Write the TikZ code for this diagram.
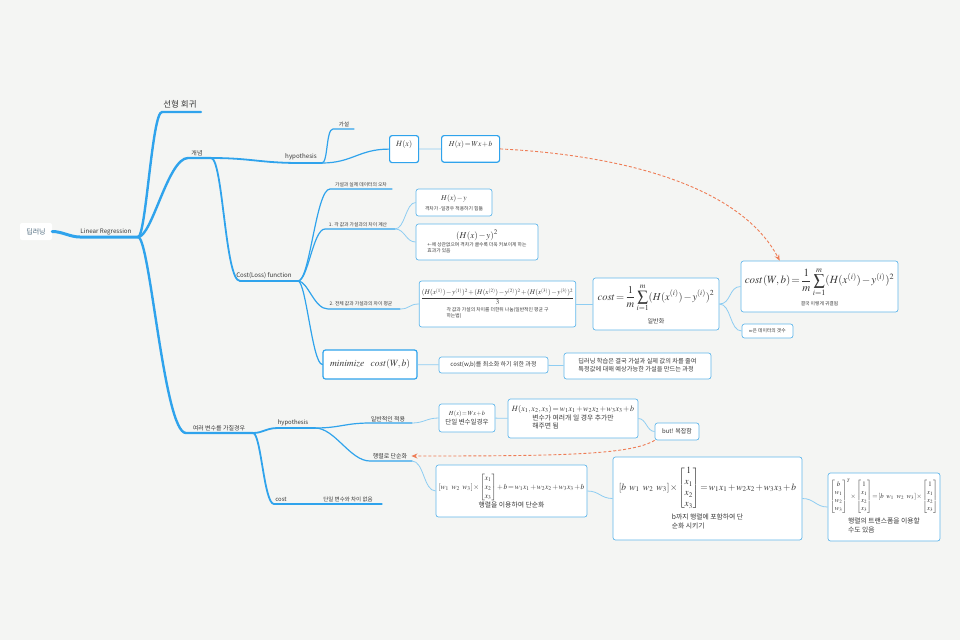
\documentclass[tikz,border=0pt]{standalone}
\usepackage{mathptmx}
\usepackage{amsmath}
\usepackage{fontspec}
\newfontfamily\kr{Noto Sans CJK KR}
\usetikzlibrary{arrows.meta}
\definecolor{bg}{HTML}{F4F5F3}
\definecolor{br}{HTML}{2FA3EC}
\definecolor{lnk}{HTML}{8ECDF2}
\definecolor{bx}{HTML}{62B7EB}
\definecolor{org}{HTML}{EE7C55}
\definecolor{txt}{HTML}{383838}
\definecolor{rtxt}{HTML}{4E6A7E}
\medmuskip=1.5mu
\thickmuskip=2mu
\newcommand\notefont{\kr\fontsize{4.8}{6}\selectfont}
\newcommand\twol[2]{\begin{tabular}{@{}l@{}}#1\\#2\end{tabular}}

\begin{document}
\begin{tikzpicture}[x=1pt,y=-1pt,
  lbl/.style={inner sep=0,text=txt,font=\kr\fontsize{#1}{#1}\selectfont},
  lbl/.default=6,
  box/.style={draw=bx,line width=0.7pt,fill=white,rounded corners=2.5pt,inner sep=1.5pt,text=txt},
  bigbox/.style={box,draw=br,line width=1.2pt},
  sz/.style 2 args={minimum width=#1,minimum height=#2},
  lv/.style={draw=br,line width=#1,line cap=round},
  link/.style={draw=lnk,line width=0.8pt},
  hint/.style={draw=org,line width=0.9pt,dash pattern=on 3pt off 2pt,-{Stealth[length=6pt,width=5pt]}}]
\fill[bg] (0,0) rectangle (960,640);
\useasboundingbox (0,0) rectangle (960,640);

% topics
\node[fill=white,rounded corners=2pt,sz={32}{17},text=rtxt,font=\kr\fontsize{7}{7}\selectfont] (root) at (36,231.5) {딥러닝};
\foreach \n/\x/\y/\s/\lab in {lrl/106/232/6.2/Linear Regression, shl/180/104/8.5/선형 회귀,
    gnl/197/153/6/개념, hyl/301/157/6.2/hypothesis, gal/344/124/5.5/가설,
    cll/264/276/6.2/Cost(Loss) function, erl/361/185/4.8/가설과 실제 데이터의 오차,
    d1l/358/225/4.8/1. 각 값과 가설과의 차이 계산, d2l/361/304/4.8/2. 전체 값과 가설과의 차이 평균,
    mvl/219/428/6/여러 변수를 가질경우, mhl/293/423/6/hypothesis, apl/388/419/6/일반적인 적용,
    msl/390/456/6/행렬로 단순화, mcl/281/499/6/cost, mc1l/348/499/5.5/단일 변수와 차이 없음}
  \node[lbl=\s] (\n) at (\x,\y) {\lab};
\foreach \n/\x/\y in {lr0/80/237, lr/138/237, sh0/162/112, sh1/201/112, gn0/188/158, gn/211/158,
    mv0/186/433, mv/253/433, hy0/300/163, hy/322/163, ga0/333/129, ga1/354/129,
    cl0/240/281, cl/298/281, er0/330/189, er1/392/189, d10/325/229, d1/395/229,
    d20/328/309, d2/400/309, mh0/278/428, mh/315/428, ap0/370/423, ap/412/423,
    ms0/370/461, ms/412/461, mc0/274/504, mc/300/504, mc1/382/504}
  \coordinate (\n) at (\x,\y);

% boxes
\node[bigbox,anchor=north west,minimum width=29pt,inner ysep=5pt,text depth=11pt,font=\fontsize{8}{9}\selectfont] (hx) at (389,135) {$H(x)$};
\node[bigbox,anchor=north west,minimum width=58pt,inner ysep=5pt,text depth=11pt,font=\fontsize{7.5}{9}\selectfont] (hwb) at (441,135) {$H(x)=Wx+b$};
\node[box,sz={76}{27},align=center,font=\fontsize{7.5}{10}\selectfont] (hyb) at (454,202.5)
  {$H(x)-y$\\{\notefont 격차가 -일경우 적용하기 힘듦}};
\node[box,sz={122}{36},align=center,font=\fontsize{9}{11}\selectfont] (hysq) at (477,242)
  {$(H(x)-y)^2$\\{\notefont\twol{+-에 상관없으며 격차가 클수록 더욱 커보이게 하는}{효과가 있음}}};
\node[box,sz={153}{46},align=center,font=\fontsize{7}{10}\selectfont] (frac) at (497.5,304)
  {$\dfrac{(H(x^{(1)})-y^{(1)})^2+(H(x^{(2)})-y^{(2)})^2+(H(x^{(3)})-y^{(3)})^2}{3}$\\[2pt]{\notefont\twol{각 값과 가설의 차이를 더한뒤 나눔(일반적인 평균 구}{하는법)}}};
\node[box,sz={126}{52},align=center,font=\fontsize{10.5}{13}\selectfont] (costg) at (656,304)
  {$\displaystyle cost=\frac{1}{m}\sum_{i=1}^{m}(H(x^{(i)})-y^{(i)})^2$\\[5pt]{\kr\fontsize{6}{7}\selectfont 일반화}};
\node[box,sz={157}{51},align=center,font=\fontsize{11}{13}\selectfont] (costwb) at (819.5,286.5)
  {$\displaystyle cost(W,b)=\frac{1}{m}\sum_{i=1}^{m}(H(x^{(i)})-y^{(i)})^2$\\[4pt]{\notefont 결국 이렇게 귀결됨}};
\node[box,sz={51}{14},font=\notefont] (mbox) at (767.5,331) {$m$은 데이터의 갯수};
\node[bigbox,sz={94}{29},font=\fontsize{9.5}{10}\selectfont] (mini) at (370,364.5) {$minimize\ \ cost(W,b)$};
\node[box,sz={109}{16},font=\kr\fontsize{6}{7}\selectfont] (proc) at (493.5,365) {cost(w,b)를 최소화 하기 위한 과정};
\node[box,sz={147}{26},font=\kr\fontsize{6.2}{8}\selectfont] (dl) at (637.5,366)
  {\twol{딥러닝 학습은 결국 가설과 실제 값의 차를 줄여}{특정값에 대해 예상가능한 가설을 만드는 과정}};
\node[box,sz={56}{28},align=center,font=\fontsize{6.2}{9}\selectfont] (hs) at (467,418)
  {$H(x)=Wx+b$\\{\kr\fontsize{6.5}{8}\selectfont 단일 변수일경우}};
\node[box,sz={130}{39},align=center,font=\fontsize{8}{10}\selectfont] (hm) at (573,418.5)
  {$H(x_1,x_2,x_3)=w_1x_1+w_2x_2+w_3x_3+b$\\{\kr\fontsize{6.8}{8.5}\selectfont\twol{변수가 여러개 일 경우 추가만}{해주면 됨}}};
\node[box,sz={44}{17},font=\kr\fontsize{6}{7}\selectfont] (but) at (677,431.5) {but! 복잡함};
\node[box,sz={151}{52},align=center,font=\fontsize{7.5}{9}\selectfont] (mat1) at (511.5,491)
  {$[w_1\ w_2\ w_3]\times\begin{bmatrix}x_1\\x_2\\x_3\end{bmatrix}+b=w_1x_1+w_2x_2+w_3x_3+b$\\{\kr\fontsize{6.8}{8}\selectfont 행렬을 이용하여 단순화}};
\node[box,sz={189}{83},align=center,font=\fontsize{9.5}{11}\selectfont] (mat2) at (707.5,498.5)
  {$[b\ w_1\ w_2\ w_3]\times\begin{bmatrix}1\\x_1\\x_2\\x_3\end{bmatrix}=w_1x_1+w_2x_2+w_3x_3+b$\\[2pt]{\kr\fontsize{6.8}{9}\selectfont\twol{b까지 행렬에 포함하여 단}{순화 시키기}}};
\node[box,sz={112}{68},align=center,font=\fontsize{6.8}{8}\selectfont] (mat3) at (884,507)
  {$\begin{bmatrix}b\\w_1\\w_2\\w_3\end{bmatrix}^{T}\!\times\begin{bmatrix}1\\x_1\\x_2\\x_3\end{bmatrix}=[b\ w_1\ w_2\ w_3]\times\begin{bmatrix}1\\x_1\\x_2\\x_3\end{bmatrix}$\\[3pt]{\kr\fontsize{6.8}{9}\selectfont\twol{행렬의 트랜스폼을 이용할}{수도 있음}}};

% branches
\draw[lv=3pt] (root.east) .. controls +(10,0) and +(-10,0) .. (lr0) -- (lr);
\draw[lv=2.4pt] (lr) .. controls +(8,0) and +(-10,0) .. (sh0) -- (sh1);
\draw[lv=2.4pt] (lr) .. controls +(14,0) and +(-20,0) .. (gn0) -- (gn);
\draw[lv=2.4pt] (lr) .. controls +(12,0) and +(-22,0) .. (mv0) -- (mv);
\draw[lv=1.8pt] (gn) .. controls +(40,0) and +(-40,0) .. (hy0) -- (hy);
\draw[lv=1.8pt] (gn) .. controls +(12,0) and +(-15,0) .. (cl0) -- (cl);
\draw[lv=1.2pt] (hy) .. controls +(6,0) and +(-7,0) .. (ga0) -- (ga1);
\draw[lv=1.2pt] (hy) .. controls +(30,0) and +(-30,0) .. (hx.west);
\draw[lv=1.2pt] (cl) .. controls +(12,0) and +(-14,0) .. (er0) -- (er1);
\draw[lv=1.2pt] (cl) .. controls +(10,0) and +(-12,0) .. (d10) -- (d1);
\draw[lv=1.2pt] (cl) .. controls +(10,0) and +(-14,0) .. (d20) -- (d2);
\draw[lv=1.2pt] (cl) .. controls +(8,0) and +(-10,0) .. (mini.west);
\draw[lv=1.8pt] (mv) .. controls +(10,0) and +(-12,0) .. (mh0) -- (mh);
\draw[lv=1.8pt] (mv) .. controls +(8,0) and +(-10,0) .. (mc0) -- (mc);
\draw[lv=1.2pt] (mc) -- (mc1);
\draw[lv=1.2pt] (mh) .. controls +(25,0) and +(-25,0) .. (ap0) -- (ap);
\draw[lv=1.2pt] (mh) .. controls +(20,0) and +(-20,0) .. (ms0) -- (ms);

% links between boxes
\draw[link] (hx) -- (hwb);
\draw[link] (d1) .. controls +(10,0) and +(-10,0) .. (hyb.west);
\draw[link] (d1) .. controls +(10,0) and +(-10,0) .. (hysq.west);
\draw[link] (d2) .. controls +(10,0) and +(-10,0) .. (frac.west);
\draw[link] (frac) -- (costg);
\draw[link] (costg.east) .. controls +(12,0) and +(-12,0) .. (costwb.west);
\draw[link] (costg.east) .. controls +(12,0) and +(-12,0) .. (mbox.west);
\draw[link] (mini) -- (proc);
\draw[link] (proc) -- (dl);
\draw[link] (ap) .. controls +(12,0) and +(-12,0) .. (hs.west);
\draw[link] (hs) -- (hm);
\draw[link] (hm.east) .. controls +(8,0) and +(-8,0) .. (but.west);
\draw[link] (ms) .. controls +(12,0) and +(-12,0) .. (mat1.west);
\draw[link] (mat1.east) .. controls +(12,0) and +(-12,0) .. (mat2.west);
\draw[link] (mat2.east) .. controls +(12,0) and +(-12,0) .. (mat3.west);

% dashed hints
\draw[hint] (hwb.east) .. controls (620,155) and (740,185) .. ([xshift=39pt]costwb.north west);
\draw[hint] (but.south west) .. controls (630,455) and (560,456) .. ([xshift=4pt]msl.east);
\end{tikzpicture}
\end{document}
